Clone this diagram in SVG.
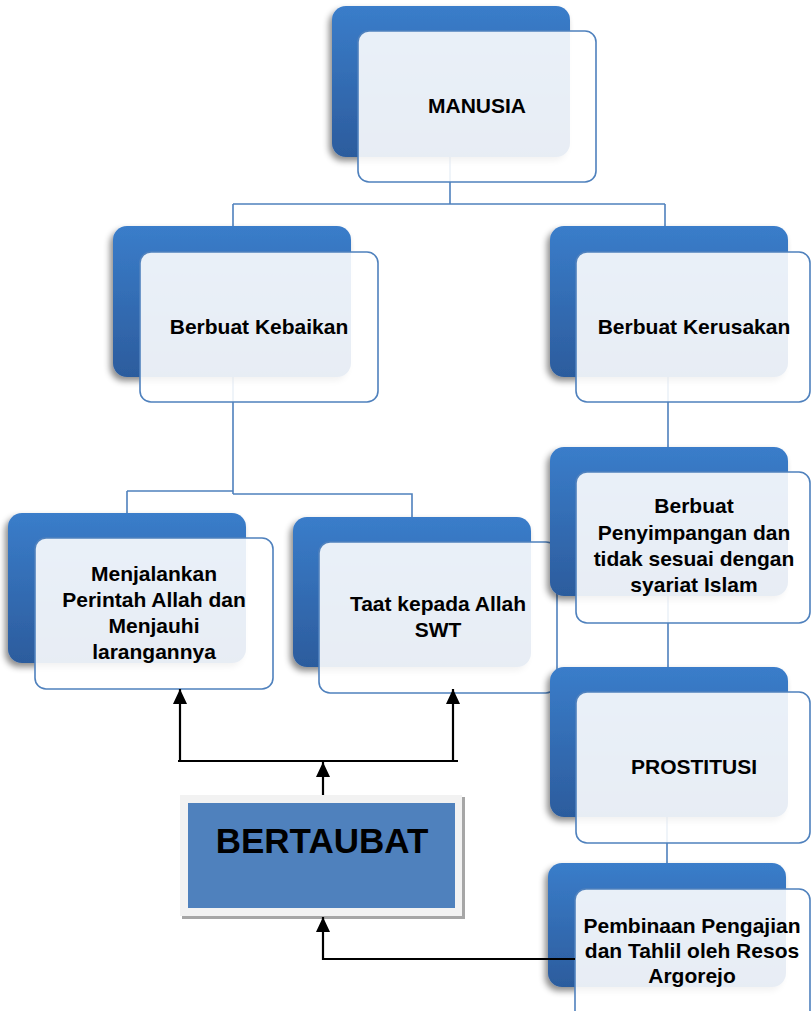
<svg xmlns="http://www.w3.org/2000/svg" width="811" height="1011" viewBox="0 0 811 1011">
<defs>
<linearGradient id="backGrad" x1="0" y1="0" x2="0" y2="1">
<stop offset="0" stop-color="#3A7DCA"/>
<stop offset="1" stop-color="#2C5C9D"/>
</linearGradient>
<filter id="shadow" x="-20%" y="-20%" width="140%" height="140%">
<feDropShadow dx="-3" dy="4" stdDeviation="3" flood-color="#000" flood-opacity="0.45"/>
</filter>
<marker id="arrow" viewBox="0 0 15 14" refX="15" refY="7" markerWidth="15" markerHeight="14" markerUnits="userSpaceOnUse" orient="auto">
<path d="M0,0 L15,7 L0,14 z" fill="#000"/>
</marker>
<style>
.back{fill:url(#backGrad);filter:url(#shadow);}
.front{fill:#FFFFFF;fill-opacity:0.89;stroke:#4F81BD;stroke-width:1.6;}
.conn{fill:none;stroke:#4F81BD;stroke-width:1.6;}
.arr{fill:none;stroke:#000;stroke-width:2.2;}
.lbl{font-family:"Liberation Sans",Arial,sans-serif;font-weight:bold;font-size:21px;fill:#000;text-anchor:middle;}
.big{font-family:"Liberation Sans",Arial,sans-serif;font-weight:bold;font-size:35px;fill:#000;text-anchor:middle;}
</style>
</defs>
<rect width="811" height="1011" fill="#FFFFFF"/>

<g id="connectors">
<path class="conn" d="M450,157 V204 M233,204 H665 M233,204 V226 M665,204 V226"/>
<path class="conn" d="M233,377 V494 M127,491 H233 M127,491 V513 M233,494 H412 V517"/>
<path class="conn" d="M668,377 V447 M668,596 V667 M667,817 V863"/>
</g>

<g id="node-manusia">
<rect class="back" x="332" y="6" width="238" height="151" rx="14"/>
<rect class="front" x="358" y="31" width="238" height="151" rx="11"/>
<text class="lbl" x="477" y="113">MANUSIA</text>
</g>

<g id="node-kebaikan">
<rect class="back" x="113" y="226" width="238" height="151" rx="14"/>
<rect class="front" x="140" y="252" width="238" height="150" rx="11"/>
<text class="lbl" x="259" y="334">Berbuat Kebaikan</text>
</g>

<g id="node-kerusakan">
<rect class="back" x="550" y="226" width="238" height="151" rx="14"/>
<rect class="front" x="576" y="252" width="234" height="150" rx="11"/>
<text class="lbl" x="694" y="334">Berbuat Kerusakan</text>
</g>

<g id="node-menjalankan">
<rect class="back" x="8" y="513" width="238" height="150" rx="14"/>
<rect class="front" x="35" y="538" width="238" height="151" rx="11"/>
<text class="lbl" x="154" y="581">Menjalankan</text>
<text class="lbl" x="154" y="607">Perintah Allah dan</text>
<text class="lbl" x="154" y="633">Menjauhi</text>
<text class="lbl" x="154" y="659">larangannya</text>
</g>

<g id="node-taat">
<rect class="back" x="293" y="517" width="238" height="150" rx="14"/>
<rect class="front" x="319" y="542" width="238" height="151" rx="11"/>
<text class="lbl" x="438" y="611">Taat kepada Allah</text>
<text class="lbl" x="438" y="637">SWT</text>
</g>

<g id="node-penyimpangan">
<rect class="back" x="550" y="447" width="238" height="149" rx="14"/>
<rect class="front" x="576" y="472" width="234" height="151" rx="11"/>
<text class="lbl" x="694" y="513">Berbuat</text>
<text class="lbl" x="694" y="540">Penyimpangan dan</text>
<text class="lbl" x="694" y="566">tidak sesuai dengan</text>
<text class="lbl" x="694" y="592">syariat Islam</text>
</g>

<g id="node-prostitusi">
<rect class="back" x="550" y="667" width="238" height="150" rx="14"/>
<rect class="front" x="576" y="692" width="234" height="151" rx="11"/>
<text class="lbl" x="694" y="774">PROSTITUSI</text>
</g>

<g id="node-pembinaan">
<rect class="back" x="548" y="863" width="238" height="124" rx="14"/>
<rect class="front" x="575" y="889" width="235" height="140" rx="11"/>
<text class="lbl" x="692" y="933">Pembinaan Pengajian</text>
<text class="lbl" x="692" y="958">dan Tahlil oleh Resos</text>
<text class="lbl" x="692" y="983">Argorejo</text>
</g>

<g id="node-bertaubat">
<rect x="182" y="797" width="283" height="122" fill="#A6A6A6"/>
<rect x="180" y="795" width="282" height="121" fill="#F2F2F2"/>
<rect x="188" y="803" width="267" height="105" fill="#4F81BD"/>
<text class="big" x="322" y="853">BERTAUBAT</text>
</g>

<g id="arrows">
<path class="arr" d="M178,761 H458"/>
<path class="arr" d="M180,761 V689" marker-end="url(#arrow)"/>
<path class="arr" d="M453,761 V689" marker-end="url(#arrow)"/>
<path class="arr" d="M323,795 V762" marker-end="url(#arrow)"/>
<path class="arr" d="M575,959 H323 V917" marker-end="url(#arrow)"/>
</g>
</svg>
